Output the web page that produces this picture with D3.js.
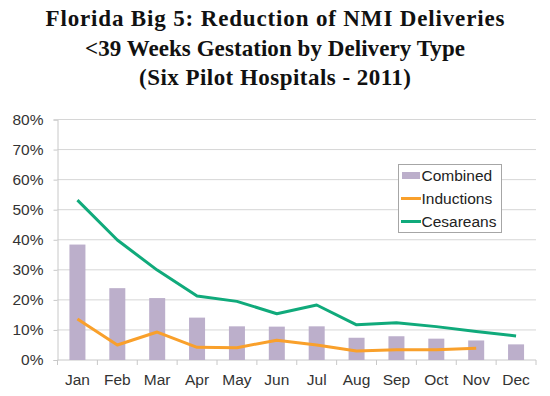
<!DOCTYPE html>
<html>
<head>
<meta charset="utf-8">
<script src="https://cdn.jsdelivr.net/npm/d3@7"></script>
<style>
  body { margin: 0; background: #fff; }
  svg { display: block; }
</style>
</head>
<body>
<div id="chart"></div>
<script>
// months + the three series (percent)
let months = ["Jan", "Feb", "Mar", "Apr", "May", "Jun", "Jul", "Aug", "Sep", "Oct", "Nov", "Dec"];
let combined = [38.4, 23.9, 20.6, 14.1, 11.2, 11.1, 11.2, 7.4, 7.9, 7.1, 6.5, 5.2];
let inductions = [13.6, 5.0, 9.3, 4.2, 4.1, 6.6, 5.0, 3.0, 3.4, 3.4, 3.9, null];
let cesareans = [53.2, 39.9, 29.9, 21.3, 19.5, 15.4, 18.3, 11.7, 12.4, 11.1, 9.5, 8.0];
let yTicks = [0, 10, 20, 30, 40, 50, 60, 70, 80];
let titleLines = ["Florida Big 5: Reduction of NMI Deliveries", "<39 Weeks Gestation by Delivery Type", "(Six Pilot Hospitals - 2011)"];
let titleWidths = [459, 380, 272];

let width = 550, height = 396;
let plotLeft = 57.5, plotRight = 536, plotTop = 119.5, plotBottom = 360;

let barColor = "#bcafcb";
let orange = "#f9a02b";
let green = "#10aa7b";
let font = "'Liberation Sans', Arial, sans-serif";

let svg = d3.select("#chart")
    .append("svg")
    .attr("width", width)
    .attr("height", height);

// title (garamond-ish, stretched to the original widths)
svg.append("g")
    .selectAll("text")
    .data(titleLines)
    .enter()
    .append("text")
    .attr("x", 275)
    .attr("y", function (d, i) { return 26 + i * 29.5; })
    .attr("text-anchor", "middle")
    .attr("font-family", "'Liberation Serif', 'Times New Roman', serif")
    .attr("font-weight", "bold")
    .attr("font-size", "23px")
    .attr("textLength", function (d, i) { return titleWidths[i]; })
    .attr("lengthAdjust", "spacing")
    .attr("fill", "#111")
    .text(function (d) { return d; });

let x = d3.scaleBand().domain(months).range([plotLeft, plotRight]);
let y = d3.scaleLinear().domain([0, 80]).range([plotBottom, plotTop]);

// gridlines
svg.append("g")
    .selectAll("line")
    .data(yTicks.slice(1))
    .enter()
    .append("line")
    .attr("x1", plotLeft)
    .attr("x2", plotRight)
    .attr("y1", function (d) { return y(d); })
    .attr("y2", function (d) { return y(d); })
    .attr("stroke", "#d6d6d6")
    .attr("stroke-width", 1);

// y axis
let yAxis = svg.append("g")
    .attr("transform", "translate(" + plotLeft + ",0)")
    .call(d3.axisLeft(y).tickValues(yTicks).tickSize(4).tickPadding(10)
        .tickFormat(function (d) { return d + "%"; }));
yAxis.selectAll("path, line").attr("stroke", "#c8c8c8");
yAxis.selectAll("text")
    .attr("font-family", font)
    .attr("font-size", "15.5px")
    .attr("fill", "#333");

// x axis, ticks between categories
let xAxis = svg.append("g")
    .attr("transform", "translate(0," + plotBottom + ")");
xAxis.append("line")
    .attr("x1", plotLeft).attr("x2", plotRight)
    .attr("stroke", "#c8c8c8");
xAxis.selectAll(".tk")
    .data(months.concat(["end"]))
    .enter()
    .append("line")
    .attr("class", "tk")
    .attr("x1", function (d, i) { return plotLeft + i * x.step(); })
    .attr("x2", function (d, i) { return plotLeft + i * x.step(); })
    .attr("y1", 0).attr("y2", 5)
    .attr("stroke", "#c8c8c8");
xAxis.selectAll("text")
    .data(months)
    .enter()
    .append("text")
    .attr("x", function (d) { return x(d) + x.bandwidth() / 2; })
    .attr("y", 25)
    .attr("text-anchor", "middle")
    .attr("font-family", font)
    .attr("font-size", "15.5px")
    .attr("fill", "#333")
    .text(function (d) { return d; });

// bars
let barW = 16;
svg.append("g")
    .selectAll("rect")
    .data(combined)
    .enter()
    .append("rect")
    .attr("x", function (d, i) { return x(months[i]) + (x.bandwidth() - barW) / 2; })
    .attr("y", function (d) { return y(d); })
    .attr("width", barW)
    .attr("height", function (d) { return plotBottom - y(d); })
    .attr("fill", barColor);

// lines
let line = d3.line()
    .defined(function (d) { return d != null; })
    .x(function (d, i) { return x(months[i]) + x.bandwidth() / 2; })
    .y(function (d) { return y(d); });

svg.append("path")
    .datum(inductions)
    .attr("d", line)
    .attr("fill", "none")
    .attr("stroke", orange)
    .attr("stroke-width", 3)
    .attr("stroke-linejoin", "round");

svg.append("path")
    .datum(cesareans)
    .attr("d", line)
    .attr("fill", "none")
    .attr("stroke", green)
    .attr("stroke-width", 3)
    .attr("stroke-linejoin", "round");

// legend
let legend = svg.append("g").attr("transform", "translate(398.5,164.5)");
legend.append("rect")
    .attr("width", 103)
    .attr("height", 68)
    .attr("fill", "#fff")
    .attr("stroke", "#a6a6a6");
let legendItems = [
    {name: "Combined", type: "bar", color: barColor},
    {name: "Inductions", type: "line", color: orange},
    {name: "Cesareans", type: "line", color: green}
];
legendItems.forEach(function (d, i) {
    let cy = 11 + i * 23;
    if (d.type == "bar") {
        legend.append("rect")
            .attr("x", 3.5).attr("y", cy - 3.5)
            .attr("width", 18).attr("height", 7)
            .attr("fill", d.color);
    } else {
        legend.append("line")
            .attr("x1", 2.5).attr("x2", 22.5)
            .attr("y1", cy).attr("y2", cy)
            .attr("stroke", d.color)
            .attr("stroke-width", 3);
    }
    legend.append("text")
        .attr("x", 23)
        .attr("y", cy)
        .attr("dy", "0.36em")
        .attr("font-family", font)
        .attr("font-size", "15.5px")
        .attr("fill", "#222")
        .text(d.name);
});
</script>
</body>
</html>
